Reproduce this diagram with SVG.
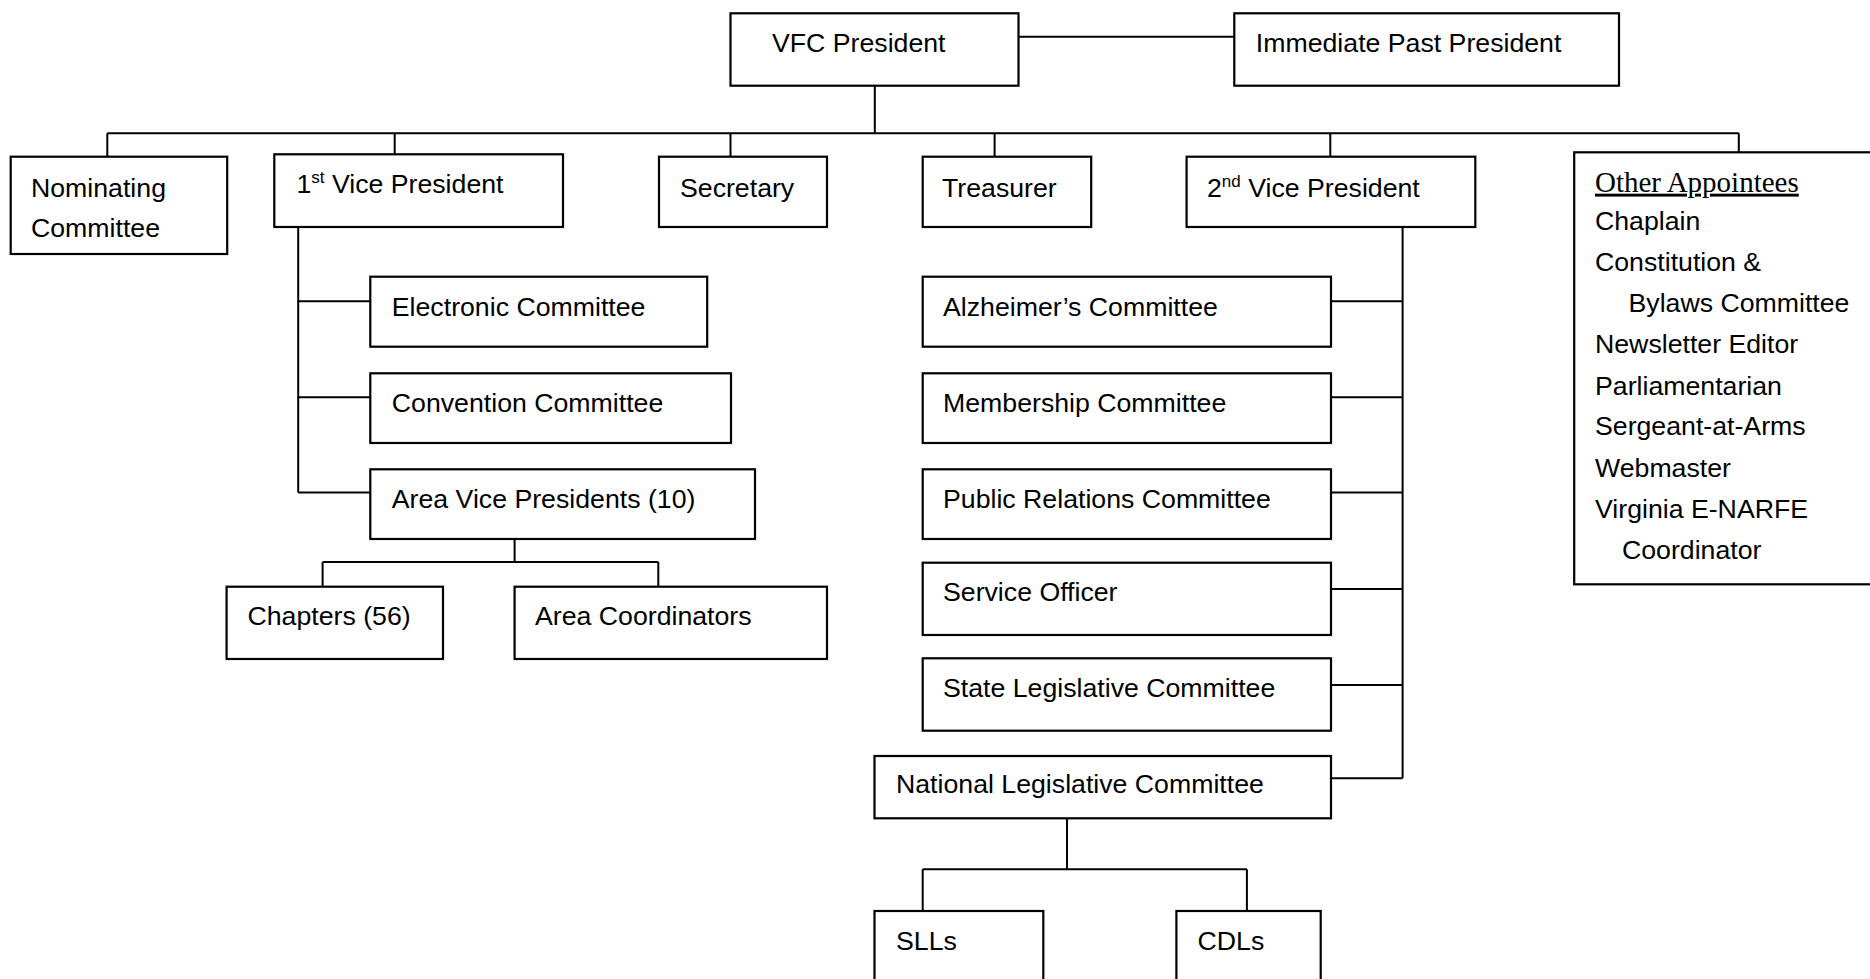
<svg xmlns="http://www.w3.org/2000/svg" width="1870" height="979" viewBox="0 0 1870 979">
<style>
.box{fill:#fff;stroke:#000;stroke-width:2.2}
.ln{fill:none;stroke:#000;stroke-width:2}
.t{font-family:"Liberation Sans",Arial,sans-serif;font-size:26.7px;fill:#000}
.sup{font-size:17px}
.hd{font-family:"Liberation Serif","Times New Roman",serif;font-size:29px;fill:#000;text-decoration:underline}
</style>
<rect width="1870" height="979" fill="#fff"/>
<g id="connectors">
<path class="ln" d="M1018.5 36.7H1234.3"/>
<path class="ln" d="M874.8 85.7V133.3M107.3 133.3H1738.8M107.3 133.3V156.7M394.7 133.3V154.3M730.5 133.3V156.7M994.6 133.3V156.7M1330.3 133.3V156.7M1738.8 133.3V156.7"/>
<path class="ln" d="M298.2 227V492.5M298.2 301.3H370.3M298.2 397.3H370.3M298.2 492.5H370.3"/>
<path class="ln" d="M514.6 539V562M322.6 562H658.3M322.6 562V586.7M658.3 562V586.7"/>
<path class="ln" d="M1402.6 227V778.3M1331 301.3H1402.6M1331 397.3H1402.6M1331 492.5H1402.6M1331 589H1402.6M1331 685H1402.6M1331 778.3H1402.6"/>
<path class="ln" d="M1067 818.3V869.3M922.7 869.3H1246.9M922.7 869.3V911M1246.9 869.3V911"/>
</g>
<g id="vfc-president"><rect class="box" x="730.5" y="13.3" width="288" height="72.4"/><text class="t" x="772" y="51.7">VFC President</text></g>
<g id="immediate-past-president"><rect class="box" x="1234.3" y="13.3" width="384.7" height="72.4"/><text class="t" x="1255.8" y="51.7">Immediate Past President</text></g>
<g id="nominating-committee"><rect class="box" x="10.7" y="156.7" width="216.5" height="97.3"/><text class="t" x="31" y="197">Nominating</text><text class="t" x="31" y="237">Committee</text></g>
<g id="first-vice-president"><rect class="box" x="274.3" y="154.3" width="288.7" height="72.7"/><text class="t" x="296.4" y="193.3">1<tspan class="sup" dy="-10">st</tspan><tspan dy="10"> Vice President</tspan></text></g>
<g id="secretary"><rect class="box" x="659" y="156.7" width="168" height="70.3"/><text class="t" x="680" y="197">Secretary</text></g>
<g id="treasurer"><rect class="box" x="922.7" y="156.7" width="168.5" height="70.3"/><text class="t" x="942" y="197">Treasurer</text></g>
<g id="second-vice-president"><rect class="box" x="1186.6" y="156.7" width="288.7" height="70.3"/><text class="t" x="1207" y="197">2<tspan class="sup" dy="-10">nd</tspan><tspan dy="10"> Vice President</tspan></text></g>
<g id="other-appointees"><rect class="box" x="1574.2" y="152.3" width="310" height="432"/>
<text class="hd" x="1595" y="191.7">Other Appointees</text>
<text class="t" x="1595" y="230">Chaplain</text>
<text class="t" x="1595" y="270.7">Constitution &amp;</text>
<text class="t" x="1628.5" y="311.7">Bylaws Committee</text>
<text class="t" x="1595" y="353.3">Newsletter Editor</text>
<text class="t" x="1595" y="395">Parliamentarian</text>
<text class="t" x="1595" y="435">Sergeant-at-Arms</text>
<text class="t" x="1595" y="476.7">Webmaster</text>
<text class="t" x="1595" y="518">Virginia E-NARFE</text>
<text class="t" x="1622" y="559">Coordinator</text></g>
<g id="electronic-committee"><rect class="box" x="370.3" y="276.7" width="336.9" height="70"/><text class="t" x="391.8" y="315.7">Electronic Committee</text></g>
<g id="convention-committee"><rect class="box" x="370.3" y="373.3" width="360.7" height="69.7"/><text class="t" x="391.8" y="412">Convention Committee</text></g>
<g id="area-vice-presidents"><rect class="box" x="370.3" y="469.3" width="384.7" height="69.7"/><text class="t" x="391.8" y="508.3">Area Vice Presidents (10)</text></g>
<g id="chapters"><rect class="box" x="226.6" y="586.7" width="216.4" height="72.3"/><text class="t" x="247.5" y="625">Chapters (56)</text></g>
<g id="area-coordinators"><rect class="box" x="514.6" y="586.7" width="312.4" height="72.3"/><text class="t" x="535" y="625">Area Coordinators</text></g>
<g id="alzheimers-committee"><rect class="box" x="922.7" y="276.7" width="408.3" height="70"/><text class="t" x="943" y="315.7">Alzheimer’s Committee</text></g>
<g id="membership-committee"><rect class="box" x="922.7" y="373.3" width="408.3" height="69.7"/><text class="t" x="943" y="412">Membership Committee</text></g>
<g id="public-relations-committee"><rect class="box" x="922.7" y="469.3" width="408.3" height="69.7"/><text class="t" x="943" y="507.5">Public Relations Committee</text></g>
<g id="service-officer"><rect class="box" x="922.7" y="562.7" width="408.3" height="72.3"/><text class="t" x="943" y="600.5">Service Officer</text></g>
<g id="state-legislative-committee"><rect class="box" x="922.7" y="658.3" width="408.3" height="72.4"/><text class="t" x="943" y="696.7">State Legislative Committee</text></g>
<g id="national-legislative-committee"><rect class="box" x="874.5" y="756" width="456.5" height="62.3"/><text class="t" x="896" y="793.3">National Legislative Committee</text></g>
<g id="slls"><rect class="box" x="874.5" y="911" width="168.8" height="90"/><text class="t" x="896" y="950">SLLs</text></g>
<g id="cdls"><rect class="box" x="1176.4" y="911" width="144.3" height="90"/><text class="t" x="1197.5" y="950">CDLs</text></g>
</svg>
